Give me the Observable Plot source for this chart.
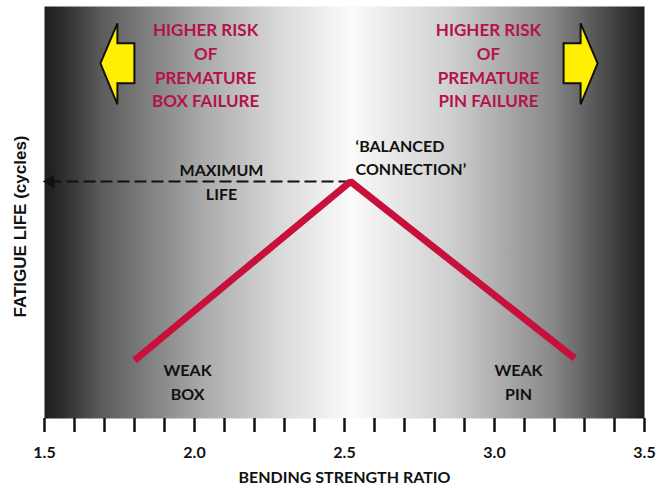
<!DOCTYPE html>
<html>
<head>
<meta charset="utf-8">
<script src="https://cdn.jsdelivr.net/npm/d3@7"></script>
<script src="https://cdn.jsdelivr.net/npm/@observablehq/plot@0.6"></script>
<style>
  html, body { margin: 0; padding: 0; background: #ffffff; }
</style>
</head>
<body>
<div id="chart"></div>
<script>
// ---- data ----
const xTicks = [1.5, 1.6, 1.7, 1.8, 1.9, 2.0, 2.1, 2.2, 2.3, 2.4, 2.5, 2.6, 2.7, 2.8, 2.9, 3.0, 3.1, 3.2, 3.3, 3.4, 3.5];
const xTickLabels = ["1.5", "2.0", "2.5", "3.0", "3.5"];

// fatigue life curve (arbitrary units of life)
const ratio = [1.80, 2.52, 3.267];
const life = [1.41, 5.75, 1.46];

// maximum life arrow
const maxLifeX = [2.52, 1.52];
const maxLifeY = [5.75, 5.75];

// annotations
const riskText = ["HIGHER RISK\nOF\nPREMATURE\nBOX FAILURE", "HIGHER RISK\nOF\nPREMATURE\nPIN FAILURE"];
const riskX = [2.037, 2.98];
const riskY = [8.60, 8.60];

const arrowDir = ["left", "right"];
const arrowX = [1.743, 3.287];
const arrowY = [8.62, 8.62];

const weakText = ["WEAK\nBOX", "WEAK\nPIN"];
const weakX = [1.977, 3.08];
const weakY = [0.92, 0.92];

const maxText = ["MAXIMUM\nLIFE"];
const maxX = [2.09];
const maxY = [5.78];

const balText = ["\u2018BALANCED\nCONNECTION\u2019"];
const balX = [2.537];
const balY = [6.36];

const xLabel = "BENDING STRENGTH RATIO";
const yLabel = "FATIGUE LIFE (cycles)";

// ---- build tables ----
const curve = ratio.map((x, i) => ({x, y: life[i]}));
const risks = riskText.map((t, i) => ({t, x: riskX[i], y: riskY[i]}));
const arrows = arrowDir.map((d, i) => ({d, x: arrowX[i], y: arrowY[i]}));
const weaks = weakText.map((t, i) => ({t, x: weakX[i], y: weakY[i]}));
const maxLife = [{x1: maxLifeX[0], x2: maxLifeX[1], y1: maxLifeY[0], y2: maxLifeY[1]}];

// block-arrow symbols
const leftArrow = {
  draw(ctx) {
    ctx.moveTo(-17, 0); ctx.lineTo(0, -40); ctx.lineTo(0, -20); ctx.lineTo(17, -20);
    ctx.lineTo(17, 20); ctx.lineTo(0, 20); ctx.lineTo(0, 41); ctx.closePath();
  }
};
const rightArrow = {
  draw(ctx) {
    ctx.moveTo(17, 0); ctx.lineTo(0, -40); ctx.lineTo(0, -20); ctx.lineTo(-17, -20);
    ctx.lineTo(-17, 20); ctx.lineTo(0, 20); ctx.lineTo(0, 41); ctx.closePath();
  }
};

const RED_LINE = "#c8103c";
const RED_TEXT = "#b5124a";
const FONT = "Lato, 'Open Sans', sans-serif";

const chart = Plot.plot({
  width: 657,
  height: 494,
  marginLeft: 44,
  marginRight: 13,
  marginTop: 6,
  marginBottom: 76,
  style: {fontFamily: FONT, background: "#ffffff", color: "#111"},
  x: {domain: [1.5, 3.5]},
  y: {domain: [0, 10], axis: null},
  marks: [
    Plot.frame({fill: "url(#bggrad)", stroke: null}),
    Plot.axisX({
      ticks: xTicks,
      tickSize: 14,
      strokeWidth: 2.5,
      stroke: "#111",
      tickPadding: 14,
      fontSize: 16,
      fontWeight: 700,
      tickFormat: d => { const s = d.toFixed(1); return xTickLabels.includes(s) ? s : ""; },
      label: null
    }),
    Plot.text([xLabel], {frameAnchor: "bottom", dy: 64, fontSize: 16, fontWeight: 700, fill: "#111"}),
    Plot.text([yLabel], {frameAnchor: "left", textAnchor: "middle", rotate: -90, dx: -24, dy: 14, fontSize: 17, fontWeight: 700,
      fontFamily: "'Liberation Sans', Arial, sans-serif", fill: "#111"}),
    // max life dashed arrow
    Plot.link(maxLife, {x1: "x1", x2: "x2", y1: "y1", y2: "y2", stroke: "#111", strokeWidth: 2, strokeDasharray: "12,5"}),
    Plot.dot(maxLife, {x: "x2", y: "y2", symbol: "triangle", rotate: -90, r: 5, fill: "#111", stroke: null}),
    // curve
    Plot.line(curve, {x: "x", y: "y", stroke: RED_LINE, strokeWidth: 7, strokeLinejoin: "miter", strokeLinecap: "butt"}),
    // yellow arrows
    Plot.dot(arrows.filter(d => d.d === "left"), {x: "x", y: "y", symbol: leftArrow, fill: "#ffef00", stroke: "#111", strokeWidth: 2}),
    Plot.dot(arrows.filter(d => d.d === "right"), {x: "x", y: "y", symbol: rightArrow, fill: "#ffef00", stroke: "#111", strokeWidth: 2}),
    // annotations
    Plot.text(risks, {x: "x", y: "y", text: "t", fill: RED_TEXT, fontSize: 17, fontWeight: 700, lineHeight: 1.4, lineAnchor: "middle"}),
    Plot.text(weaks, {x: "x", y: "y", text: "t", fill: "#111", fontSize: 16, fontWeight: 700, lineHeight: 1.5, lineAnchor: "middle"}),
    Plot.text(maxText, {x: () => maxX[0], y: () => maxY[0], text: d => d, fill: "#111", fontSize: 16, fontWeight: 700, lineHeight: 1.5, lineAnchor: "middle"}),
    Plot.text(balText, {x: () => balX[0], y: () => balY[0], text: d => d, fill: "#111", fontSize: 16, fontWeight: 700, lineHeight: 1.4, lineAnchor: "middle", textAnchor: "start"})
  ]
});

// gradient background definition
const svg = d3.select(chart);
const grad = svg.insert("defs", ":first-child").append("linearGradient")
  .attr("id", "bggrad").attr("x1", "0").attr("x2", "1").attr("y1", "0").attr("y2", "0");
[[0, "#1e1e1e"], [0.03, "#2c2c2c"], [0.093, "#5a5a5a"], [0.26, "#a8a8a8"], [0.39, "#d8d8d8"],
 [0.51, "#fbfbfb"], [0.677, "#cfcfcf"], [0.843, "#8a8a8a"], [0.96, "#3a3a3a"], [1, "#1e1e1e"]]
  .forEach(([o, c]) => grad.append("stop").attr("offset", o).attr("stop-color", c));

document.getElementById("chart").appendChild(chart);
</script>
</body>
</html>
